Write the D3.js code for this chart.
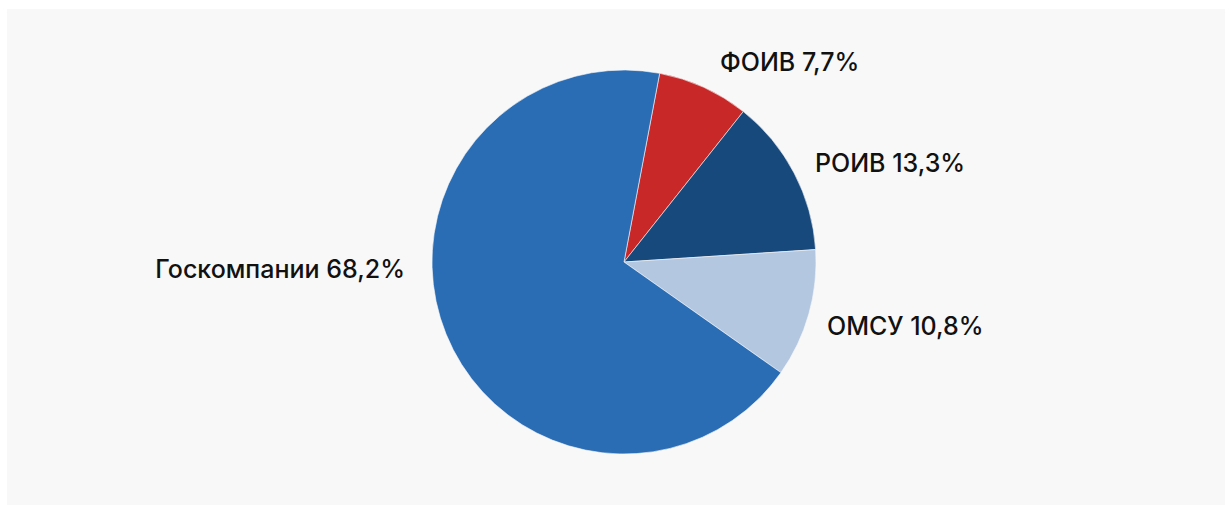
<!DOCTYPE html>
<html>
<head>
<meta charset="utf-8">
<script src="https://cdn.jsdelivr.net/npm/d3@7"></script>
<style>
  body { margin: 0; background: #fff; }
  svg { display: block; font-family: Inter, "Noto Sans", sans-serif; }
</style>
</head>
<body>
<svg id="viz" width="1231" height="510"></svg>
<script>
// slices in clockwise order, starting from the top
var labels = ["ФОИВ", "РОИВ", "ОМСУ", "Госкомпании"]
var values = [7.7, 13.3, 10.8, 68.2]
var colors = ["#c82828", "#18497c", "#b3c7e0", "#2a6db5"]
// label anchor points (x, y baseline, anchor)
var labelPos = [
    {x: 720, y: 71, anchor: "start"},
    {x: 815, y: 172, anchor: "start"},
    {x: 827, y: 335, anchor: "start"},
    {x: 405, y: 278, anchor: "end"}
]

let cx = 624, cy = 262, radius = 192
let startOffset = 10.7 * Math.PI / 180

let viz = d3.select("#viz")

viz.append("rect")
    .attr("x", 7).attr("y", 9)
    .attr("width", 1218).attr("height", 496)
    .style("fill", "#f8f8f8")

let data = labels.map((l, i) => ({label: l, value: values[i], color: colors[i], pos: labelPos[i]}))

let pie = d3.pie()
    .sort(null)
    .value(d => d.value)
    .startAngle(startOffset)
    .endAngle(startOffset + 2 * Math.PI)

let arc = d3.arc().innerRadius(0).outerRadius(radius)

let g = viz.append("g").attr("transform", `translate(${cx},${cy})`)

g.selectAll("path")
    .data(pie(data))
    .enter().append("path")
    .attr("d", arc)
    .style("fill", d => d.data.color)
    .style("stroke", "#f8f8f8")
    .style("stroke-width", 0.6)

viz.append("g").selectAll("text")
    .data(data)
    .enter().append("text")
    .attr("x", d => d.pos.x)
    .attr("y", d => d.pos.y)
    .attr("text-anchor", d => d.pos.anchor)
    .attr("font-size", 25)
    .attr("font-weight", 500)
    .style("fill", "#111")
    .text(d => d.label + " " + d.value.toFixed(1).replace(".", ",") + "%")
</script>
</body>
</html>
